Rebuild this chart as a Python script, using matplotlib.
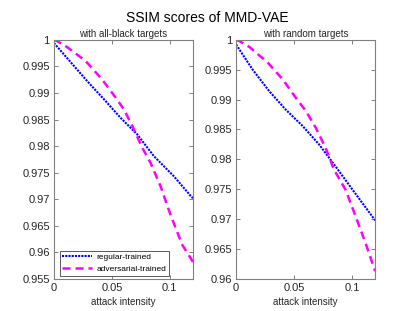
import matplotlib
matplotlib.use('Agg')
import matplotlib.pyplot as plt

plt.rcParams['font.family'] = ['Liberation Sans', 'DejaVu Sans']

# left panel: all-black targets
x_black = [0, 0.0288, 0.0432, 0.0576, 0.0719, 0.0863, 0.1036, 0.1185, 0.12]
reg_black = [0.9994, 0.9922, 0.9888, 0.9853, 0.9822, 0.9781, 0.9743, 0.9705, 0.9702]
x_black_adv = [0, 0.0029, 0.0115, 0.0274, 0.0417, 0.0533, 0.0604, 0.0676, 0.0762,
               0.0835, 0.0921, 0.1007, 0.1108, 0.12]
adv_black = [1.0, 0.99975, 0.9986, 0.9960, 0.9925, 0.9891, 0.9869, 0.9838, 0.9797,
             0.9768, 0.9724, 0.9670, 0.9614, 0.9582]

# right panel: random targets
x_rand = [0, 0.0143, 0.0286, 0.0429, 0.0573, 0.0716, 0.0859, 0.1002, 0.12]
reg_rand = [0.9992, 0.9950, 0.9914, 0.9883, 0.9856, 0.9825, 0.9788, 0.9750, 0.9698]
x_rand_adv = [0, 0.0029, 0.0114, 0.0272, 0.0401, 0.0515, 0.0601, 0.0687, 0.0773,
              0.0844, 0.0945, 0.1031, 0.1117, 0.12]
adv_rand = [1.0, 0.99978, 0.9988, 0.9962, 0.9934, 0.9903, 0.9881, 0.9853, 0.9819,
            0.9783, 0.9749, 0.9705, 0.9660, 0.9613]

fig = plt.figure(figsize=(4.15, 3.11), dpi=100)
fig.suptitle('SSIM scores of MMD-VAE', fontsize=10, y=0.965)

ax1 = fig.add_axes([0.130, 0.103, 0.335, 0.769])
ax2 = fig.add_axes([0.569, 0.103, 0.335, 0.769])

dot = (0, (1, 0.55))
dash = (0, (3.2, 2))
ax1.plot(x_black, reg_black, linestyle=dot, color='#0000ff', lw=1.5, label='regular-trained')
ax1.plot(x_black_adv, adv_black, linestyle=dash, color='#ff00ff', lw=1.8, label='adversarial-trained')
ax2.plot(x_rand, reg_rand, linestyle=dot, color='#0000ff', lw=1.5)
ax2.plot(x_rand_adv, adv_rand, linestyle=dash, color='#ff00ff', lw=1.8)

ax1.set_ylim(0.955, 1)
ax2.set_ylim(0.96, 1)
ax1.set_yticks([0.955, 0.96, 0.965, 0.97, 0.975, 0.98, 0.985, 0.99, 0.995, 1])
ax1.set_yticklabels(['0.955', '0.96', '0.965', '0.97', '0.975', '0.98', '0.985', '0.99', '0.995', '1'])
ax2.set_yticks([0.96, 0.965, 0.97, 0.975, 0.98, 0.985, 0.99, 0.995, 1])
ax2.set_yticklabels(['0.96', '0.965', '0.97', '0.975', '0.98', '0.985', '0.99', '0.995', '1'])

for ax, t in [(ax1, 'with all-black targets'), (ax2, 'with random targets')]:
    ax.set_xlim(0, 0.12)
    ax.set_xticks([0, 0.05, 0.1])
    ax.set_xticklabels(['0', '0.05', '0.1'])
    ax.set_title(t, fontsize=7, pad=2, color='#262626')
    ax.set_xlabel('attack intensity', fontsize=7, labelpad=2.5, color='#262626')
    ax.tick_params(direction='in', top=True, right=True, labelsize=8, length=3,
                   width=0.7, color='#808080', labelcolor='#262626', pad=3)
    for s in ax.spines.values():
        s.set_color('#808080')
        s.set_linewidth(0.8)

leg = ax1.legend(loc='lower left', bbox_to_anchor=(0.043, 0.013), borderaxespad=0,
                 fontsize=6, handlelength=3.6, borderpad=0.3, labelspacing=0.5,
                 handletextpad=0.5, fancybox=False, framealpha=1)
leg.get_frame().set_edgecolor('#404040')
leg.get_frame().set_linewidth(0.6)

fig.savefig('out.png', dpi=100)
